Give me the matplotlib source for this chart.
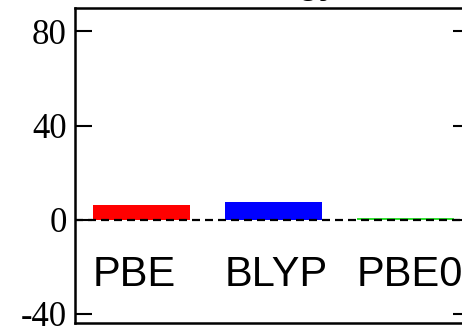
import matplotlib.pyplot as plt
import numpy as np

methods = ['PBE', 'BLYP', 'PBE0']
energies = [6.0, 7.5, 0.6]
colors = ['#ff0000', '#0000ff', '#33dd33']
yticks = [80, 40, 0, -40]
ytick_labels = ['80', '40', '0', '-40']

fig = plt.figure(figsize=(4.62, 3.29), dpi=100)
ax = fig.add_axes([0.162, 0.018, 0.855, 0.958])

width = 0.735
x = np.arange(len(methods))
ax.bar(x, energies, width=width, color=colors, zorder=2)
ax.axhline(0, color='black', lw=1.6, dashes=(3.6, 2.25), zorder=3)

# method names start at the left edge of each bar
for xi, name in zip(x, methods):
    ax.text(xi - width / 2, -23.4, name, ha='left', va='center',
            fontsize=30, family='Liberation Sans')

ax.set_xlim(-0.504, 2.49)
ax.set_ylim(-44, 90)
ax.set_xticks([])
ax.set_yticks(yticks)
ax.set_yticklabels(ytick_labels, family='Liberation Serif', fontsize=25)
ax.tick_params(axis='y', direction='in', length=12, width=1.5, right=True, pad=6)
for s in ax.spines.values():
    s.set_linewidth(1.8)

# title sits mostly above the visible canvas
fig.text(0.732, 1.018, 'Energy', ha='right', va='baseline',
         fontsize=24, fontweight='bold', family='Liberation Sans')

fig.savefig('out.png', dpi=100)
